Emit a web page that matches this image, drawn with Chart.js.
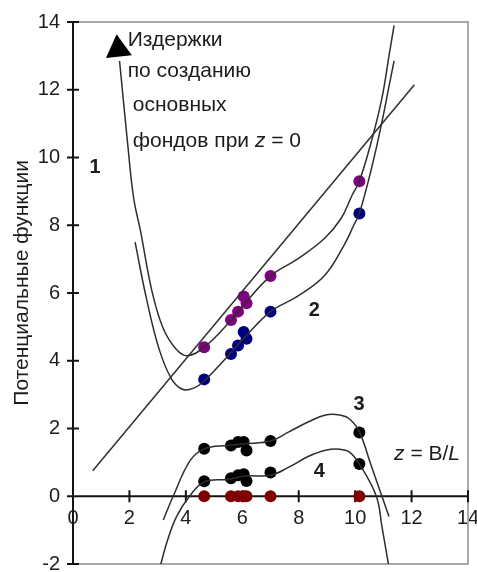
<!DOCTYPE html>
<html lang="ru">
<head>
<meta charset="utf-8">
<title>Потенциальные функции</title>
<script src="https://cdn.jsdelivr.net/npm/chart.js"></script>
<style>
  html, body { margin: 0; padding: 0; background: #fff; }
  #box { width: 477px; height: 572px; }
</style>
</head>
<body>
<div id="box"><canvas id="potChart" width="477" height="572"></canvas></div>
<script>
// observed points, all rows share the same B/L positions
const pointX = [4.65, 5.6, 5.85, 6.05, 6.15, 7.0, 10.15];
const purpleY = [4.4, 5.2, 5.45, 5.9, 5.7, 6.5, 9.3];
const blueY = [3.45, 4.2, 4.45, 4.85, 4.65, 5.45, 8.35];
const black3Y = [1.4, 1.5, 1.6, 1.6, 1.35, 1.63, 1.88];
const black4Y = [0.44, 0.53, 0.62, 0.65, 0.45, 0.7, 0.95];
const redY = [0, 0, 0, 0, 0, 0, 0];

// smoothed potential curves 1-4
const curve1X = [1.65, 1.95, 2.15, 2.4, 2.8, 3.2, 3.65, 4.05, 4.65, 5.5, 6.1, 7.0, 7.95, 8.9, 9.5, 9.9, 10.15, 10.6, 10.95, 11.2, 11.38];
const curve1Y = [12.85, 10.3, 8.8, 7.8, 6.05, 4.95, 4.35, 4.15, 4.4, 5.1, 5.7, 6.5, 7.0, 7.6, 8.2, 8.9, 9.3, 10.55, 11.75, 13.0, 13.9];
const curve2X = [2.2, 2.6, 3.05, 3.5, 3.9, 4.3, 4.65, 5.5, 6.1, 7.0, 7.95, 8.9, 9.6, 9.95, 10.15, 10.6, 10.95, 11.2, 11.38];
const curve2Y = [7.5, 5.85, 4.35, 3.45, 3.15, 3.2, 3.4, 4.15, 4.7, 5.45, 5.9, 6.5, 7.4, 8.0, 8.35, 9.75, 11.05, 12.1, 12.85];
const curve3X = [3.2, 3.55, 4.15, 4.65, 5.5, 6.1, 7.0, 7.65, 8.35, 8.95, 9.45, 9.8, 10.15, 10.55, 10.95, 11.2];
const curve3Y = [-0.7, 0.0, 1.05, 1.4, 1.5, 1.55, 1.63, 1.9, 2.2, 2.4, 2.4, 2.28, 1.9, 0.95, 0.0, -0.6];
const curve4X = [3.05, 3.35, 3.67, 4.13, 4.65, 5.5, 6.1, 7.0, 7.65, 8.35, 8.95, 9.45, 9.8, 10.15, 10.75, 10.95, 11.2];
const curve4Y = [-2.2, -1.3, -0.6, 0.0, 0.42, 0.5, 0.6, 0.62, 0.86, 1.18, 1.36, 1.39, 1.3, 0.95, 0.0, -0.9, -2.1];

// cost line (z = 0) and its pointer
const lineX = [0.7, 12.1];
const lineY = [0.75, 12.15];
const arrowX = [1.6];
const arrowY = [13.2];

const xTicks = [0, 2, 4, 6, 8, 10, 12, 14];
const yTicks = [-2, 0, 2, 4, 6, 8, 10, 12, 14];

const FONT = "'Liberation Sans', Arial, sans-serif";
const INK = '#1c1c1c';

const xy = (xs, ys) => xs.map((x, i) => ({ x: x, y: ys[i] }));

function curve(xs, ys, tension) {
  return {
    data: xy(xs, ys),
    showLine: true,
    borderColor: '#2e2e2e',
    borderWidth: 1.5,
    pointRadius: 0,
    tension: tension,
    order: 0
  };
}

function dots(ys, color, r) {
  return {
    data: xy(pointX, ys),
    showLine: false,
    backgroundColor: color,
    borderWidth: 0,
    pointRadius: r,
    order: 1
  };
}

// frame, axes crossing at zero, tick crosses
const crossAxes = {
  id: 'crossAxes',
  beforeDatasetsDraw(chart) {
    const { ctx, chartArea: a, scales: { x, y } } = chart;
    const x0 = x.getPixelForValue(0);
    const y0 = y.getPixelForValue(0);
    ctx.save();
    ctx.strokeStyle = '#a9a9a9';
    ctx.lineWidth = 2;
    ctx.strokeRect(a.left, a.top, a.right - a.left, a.bottom - a.top);
    ctx.strokeStyle = '#141414';
    ctx.lineWidth = 2;
    ctx.beginPath();
    ctx.moveTo(x0, a.top); ctx.lineTo(x0, a.bottom);
    ctx.moveTo(a.left, y0); ctx.lineTo(a.right, y0);
    yTicks.forEach(v => {
      const p = y.getPixelForValue(v);
      ctx.moveTo(x0 - 6, p); ctx.lineTo(x0 + 6, p);
    });
    xTicks.forEach(v => {
      const p = x.getPixelForValue(v);
      ctx.moveTo(p, y0 - 6); ctx.lineTo(p, y0 + 6);
    });
    ctx.stroke();

    // axis title, rotated along the y axis
    ctx.translate(22, y.getPixelForValue(6.3));
    ctx.rotate(-Math.PI / 2);
    ctx.fillStyle = INK;
    ctx.font = '21px ' + FONT;
    ctx.textAlign = 'center';
    ctx.textBaseline = 'middle';
    ctx.fillText('Потенциальные функции', 0, 0);
    ctx.restore();
  }
};

// text notes; runs marked true are italic
const notes = [
  { at: [1.94, 13.29], base: 'alphabetic', runs: [['Издержки', false]] },
  { at: [1.94, 12.38], base: 'alphabetic', runs: [['по созданию', false]] },
  { at: [2.12, 11.37], base: 'alphabetic', runs: [['основных', false]] },
  { at: [2.12, 10.31], base: 'alphabetic', runs: [['фондов при ', false], ['z', true], [' = 0', false]] },
  { at: [11.38, 1.24], base: 'middle', runs: [['z', true], [' = B/', false], ['L', true]] },
  { at: [0.78, 9.72], base: 'middle', bold: true, runs: [['1', false]] },
  { at: [8.55, 5.47], base: 'middle', bold: true, runs: [['2', false]] },
  { at: [10.14, 2.72], base: 'middle', bold: true, runs: [['3', false]] },
  { at: [8.73, 0.74], base: 'middle', bold: true, runs: [['4', false]] }
];

const notesPlugin = {
  id: 'notes',
  afterDatasetsDraw(chart) {
    const { ctx, scales: { x, y } } = chart;
    ctx.save();
    ctx.fillStyle = INK;
    notes.forEach(n => {
      let px = x.getPixelForValue(n.at[0]);
      const py = y.getPixelForValue(n.at[1]);
      ctx.textBaseline = n.base;
      if (n.bold) {
        ctx.font = 'bold 20px ' + FONT;
        ctx.textAlign = 'center';
        ctx.fillText(n.runs[0][0], px, py);
        return;
      }
      ctx.textAlign = 'left';
      n.runs.forEach(([t, it]) => {
        ctx.font = (it ? 'italic ' : '') + '21px ' + FONT;
        ctx.fillText(t, px, py);
        px += ctx.measureText(t).width;
      });
    });
    ctx.restore();
  }
};

new Chart(document.getElementById('potChart'), {
  type: 'scatter',
  data: {
    datasets: [
      curve(curve1X, curve1Y, 0.4),
      curve(curve2X, curve2Y, 0.4),
      curve(curve3X, curve3Y, 0.4),
      curve(curve4X, curve4Y, 0.4),
      curve(lineX, lineY, 0),
      {
        data: xy(arrowX, arrowY),
        backgroundColor: '#000',
        borderWidth: 0,
        pointStyle: 'triangle',
        pointRadius: 15,
        rotation: -6,
        order: 0
      },
      dots(purpleY, '#800080', 6),
      dots(blueY, '#00007f', 6),
      dots(black3Y, '#000000', 6),
      dots(black4Y, '#000000', 6),
      dots(redY, '#7f0000', 6)
    ]
  },
  options: {
    responsive: false,
    animation: false,
    events: [],
    layout: { autoPadding: false, padding: { top: 22, right: 9, bottom: 8, left: 0 } },
    plugins: {
      legend: { display: false },
      tooltip: { enabled: false }
    },
    scales: {
      x: {
        type: 'linear',
        min: 0,
        max: 14,
        position: { y: 0 },
        grid: { display: false, drawTicks: false },
        border: { display: false },
        afterBuildTicks: s => { s.ticks = xTicks.map(v => ({ value: v })); },
        afterFit: s => { s.paddingLeft = 0; s.paddingRight = 0; },
        ticks: {
          padding: 10,
          maxRotation: 0,
          autoSkip: false,
          color: INK,
          font: { family: FONT, size: 20 }
        }
      },
      y: {
        type: 'linear',
        min: -2,
        max: 14,
        position: 'left',
        grid: { display: false, drawTicks: false },
        border: { display: false },
        afterBuildTicks: s => { s.ticks = yTicks.map(v => ({ value: v })); },
        afterFit: s => { s.width = 73; s.paddingTop = 0; s.paddingBottom = 0; },
        ticks: {
          padding: 13,
          autoSkip: false,
          color: INK,
          font: { family: FONT, size: 20 }
        }
      }
    }
  },
  plugins: [crossAxes, notesPlugin]
});
</script>
</body>
</html>
